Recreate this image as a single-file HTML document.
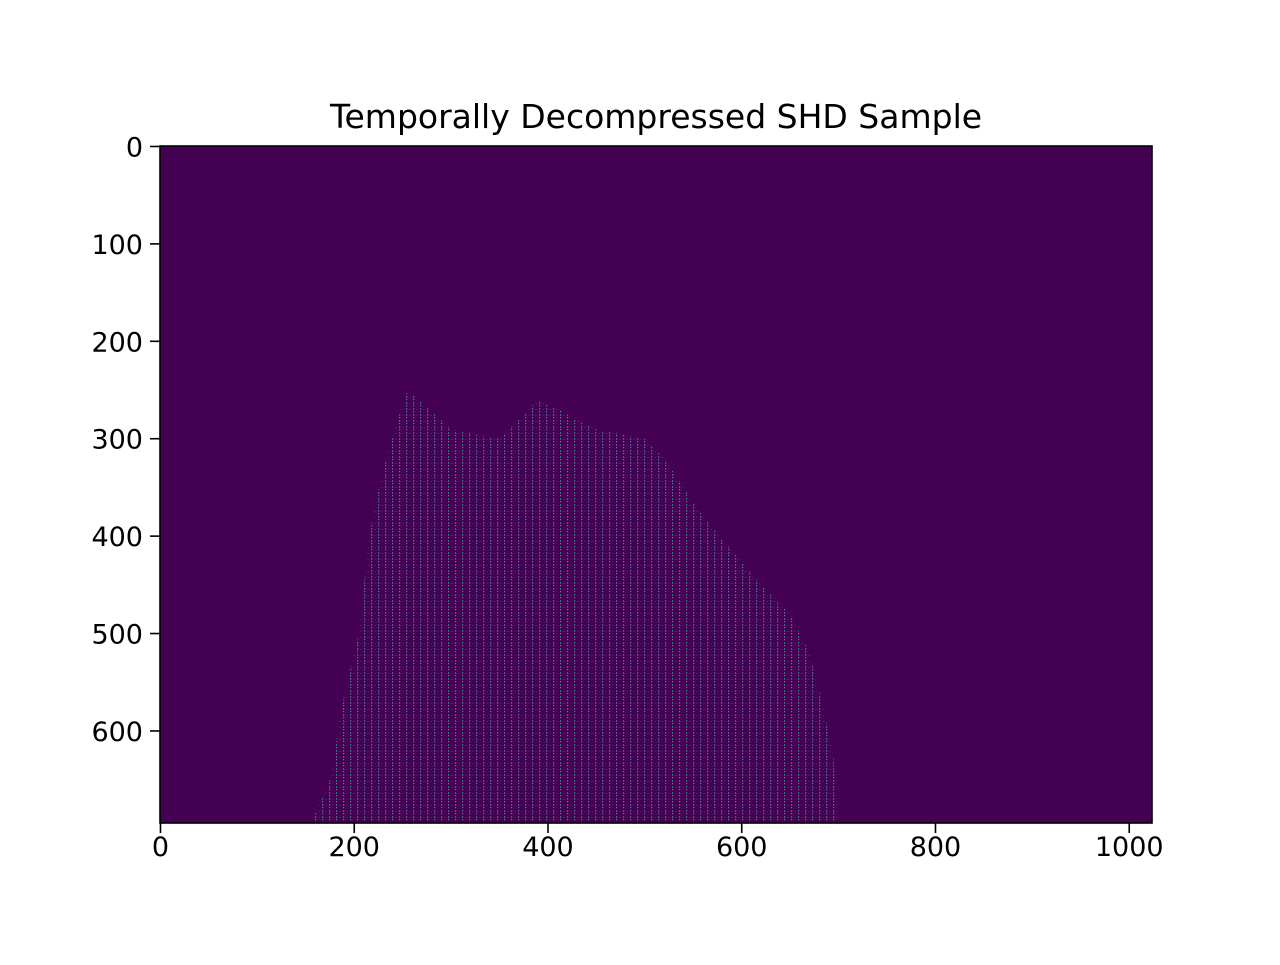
<!DOCTYPE html>
<html><head><meta charset="utf-8"><style>
body{margin:0;background:#fff;}
svg text{font-family:"DejaVu Sans","Liberation Sans",sans-serif;fill:#000;}
</style></head><body>
<svg width="1280" height="960" id="c">
<defs>
<pattern id="streak" width="7" height="6" patternUnits="userSpaceOnUse">
<rect x="0" y="0" width="1.2" height="2" fill="#21a08d"/>
<rect x="0" y="3" width="1.2" height="1.2" fill="#d8d0f0" opacity="0.7"/>
<rect x="3.5" y="1" width="1" height="1" fill="#fde725" opacity="0.3"/>
</pattern>
<clipPath id="plotclip"><rect x="160" y="146" width="992" height="677"/></clipPath>
</defs>
<text x="656" y="128" font-size="33" text-anchor="middle">Temporally Decompressed SHD Sample</text>
<rect x="160" y="146" width="992" height="677" fill="#440154"/>
<g id="marks" clip-path="url(#plotclip)"></g>
<rect x="160" y="146" width="992" height="677" fill="none" stroke="#000" stroke-width="1.6"/>
<g id="xt"></g><g id="yt"></g>
</svg>
<script>
const envX=[155,175,190,205,215,230,245,255,300,350,390,450,500,520,560,620,650,670,685,695,700];
const envTop=[695,650,560,500,400,330,280,250,290,300,260,290,300,320,380,450,480,520,580,630,695];
const xTicks=[0,200,400,600,800,1000];
const yTicks=[0,100,200,300,400,500,600];
const X0=160,XW=992,XMAX=1024,Y0=146,YH=677,YMAX=695;
const sx=v=>X0+(v+0.5)/XMAX*XW;
const sy=v=>Y0+(v+0.5)/YMAX*YH;
const ns="http://www.w3.org/2000/svg";
const marks=document.getElementById('marks');
let d="M"+sx(envX[0])+","+(Y0+YH);
for(let i=0;i<envX.length;i++)d+=" L"+sx(envX[i])+","+sy(envTop[i]);
d+=" L"+sx(envX[envX.length-1])+","+(Y0+YH)+" Z";
const p=document.createElementNS(ns,'path');
p.setAttribute('d',d);p.setAttribute('fill','url(#streak)');p.setAttribute('opacity','0.7');


marks.appendChild(p);
const xt=document.getElementById('xt');
xTicks.forEach(v=>{
 const x=sx(v);
 const l=document.createElementNS(ns,'line');
 l.setAttribute('x1',x);l.setAttribute('x2',x);l.setAttribute('y1',Y0+YH);l.setAttribute('y2',Y0+YH+10);l.setAttribute('stroke','#000');l.setAttribute('stroke-width','1.6');
 
 
 xt.appendChild(l);
 const t=document.createElementNS(ns,'text');
 t.setAttribute('x',x);t.setAttribute('y',Y0+YH+33);t.setAttribute('font-size','27');t.setAttribute('text-anchor','middle');t.textContent=v;
 
 
 xt.appendChild(t);
});
const yt=document.getElementById('yt');
yTicks.forEach(v=>{
 const y=sy(v);
 const l=document.createElementNS(ns,'line');
 l.setAttribute('x1',X0-10);l.setAttribute('x2',X0);l.setAttribute('y1',y);l.setAttribute('y2',y);l.setAttribute('stroke','#000');l.setAttribute('stroke-width','1.6');
 
 
 yt.appendChild(l);
 const t=document.createElementNS(ns,'text');
 t.setAttribute('x',X0-17);t.setAttribute('y',y+10);t.setAttribute('font-size','27');t.setAttribute('text-anchor','end');t.textContent=v;
 
 
 yt.appendChild(t);
});
</script>
</body></html>
